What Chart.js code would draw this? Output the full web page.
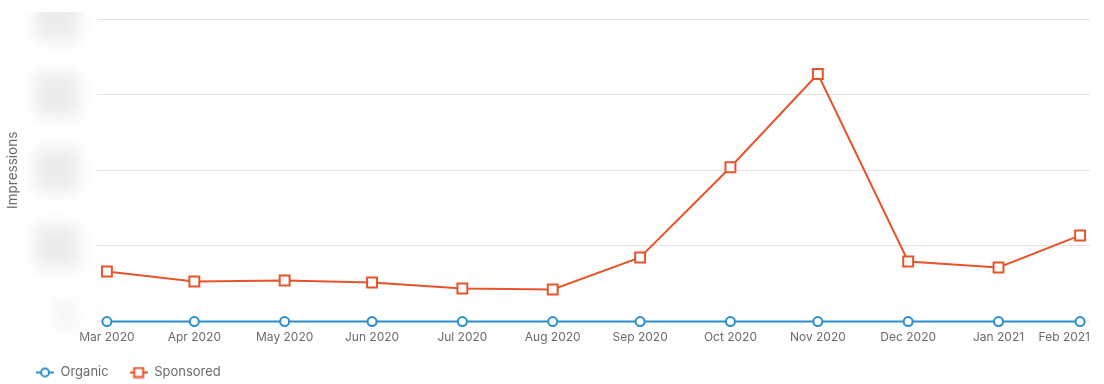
<!DOCTYPE html>
<html>
<head>
<meta charset="utf-8">
<title>Impressions</title>
<script src="https://cdn.jsdelivr.net/npm/chart.js@4/dist/chart.umd.min.js"></script>
<style>
  html, body { margin: 0; padding: 0; background: #ffffff; }
  #wrap { position: relative; width: 1104px; height: 384px; }
</style>
</head>
<body>
<div id="wrap"><canvas id="chart"></canvas></div>
<script>
// ─── Data ───────────────────────────────────────────────────────────────────
// one point per month, stamped at the month's last day
const MONTH_DATES  = ["2020-03-31", "2020-04-30", "2020-05-31", "2020-06-30", "2020-07-31", "2020-08-31",
                      "2020-09-30", "2020-10-31", "2020-11-30", "2020-12-31", "2021-01-31", "2021-02-28"];
const MONTH_LABELS = ["Mar 2020", "Apr 2020", "May 2020", "Jun 2020", "Jul 2020", "Aug 2020",
                      "Sep 2020", "Oct 2020", "Nov 2020", "Dec 2020", "Jan 2021", "Feb 2021"];
const ORGANIC   = [0, 0, 0, 0, 0, 0, 0, 0, 0, 0, 0, 0];
const SPONSORED = [662, 530, 543, 517, 437, 424, 848, 2040, 3272, 795, 715, 1139];
const Y_TICKS   = [0, 1000, 2000, 3000, 4000];

// ─── Colors ─────────────────────────────────────────────────────────────────
const BLUE   = "#2b8fcf";
const ORANGE = "#e8542a";
const TEXT   = "#6b6b6b";
const GRID   = "#e2e2e2";

// days since the first point, so spacing follows month length (like a time axis)
const DAY = 86400000;
const t0 = Date.parse(MONTH_DATES[0]);
const xDays = MONTH_DATES.map(d => (Date.parse(d) - t0) / DAY);

const toPoints = vals => vals.map((v, i) => ({ x: xDays[i], y: v }));

// ─── Legend markers (line + symbol) ─────────────────────────────────────────
function legendIcon(color, shape) {
    const c = document.createElement("canvas");
    c.width = 18; c.height = 12;
    const g = c.getContext("2d");
    g.strokeStyle = color;
    g.lineWidth = 2;
    g.beginPath(); g.moveTo(0, 6); g.lineTo(18, 6); g.stroke();
    g.fillStyle = "#ffffff";
    g.beginPath();
    if (shape === "circle") g.arc(9, 6, 4, 0, Math.PI * 2);
    else g.rect(4.5, 1.5, 9, 9);
    g.fill(); g.stroke();
    return c;
}
const ICONS = [legendIcon(BLUE, "circle"), legendIcon(ORANGE, "rect")];

// ─── Blurred y labels (values are obscured in the original) ─────────────────
const blurLabels = {
    id: "blurLabels",
    afterDraw(chart) {
        const y = chart.scales.y;
        const ctx = chart.ctx;
        ctx.save();
        ctx.beginPath();
        ctx.rect(0, 12, y.right, chart.height);
        ctx.clip();
        ctx.filter = "blur(8px)";
        y.ticks.forEach(t => {
            const py = y.getPixelForValue(t.value);
            const short = t.label.length < 2;
            const w = short ? 26 : 44;
            ctx.fillStyle = short ? "#f6f6f6" : "#ececec";
            ctx.fillRect(79 - w, py - 22, w, short ? 30 : 44);
        });
        ctx.restore();
    },
};

// legend placement + right-justify the last x label so it stays inside
const tweaks = {
    id: "tweaks",
    afterLayout(chart) {
        chart.legend.left = 15;
        chart.legend.top -= 9;
        chart.legend.bottom -= 9;
    },
    beforeDraw(chart) {
        const x = chart.scales.x;
        const items = x.getLabelItems();
        const last = items[items.length - 1];
        if (!last) return;
        const ctx = chart.ctx;
        ctx.save();
        ctx.font = Chart.helpers.toFont(x.options.ticks.font).string;
        const w = ctx.measureText(last.label).width;
        ctx.restore();
        const right = Math.min(last.options.translation[0] + w / 2, chart.width - 14);
        last.options.translation[0] = right;
        last.options.textAlign = "right";
    },
};

// ─── Chart ──────────────────────────────────────────────────────────────────
Chart.defaults.font.family = "Inter, 'Noto Sans', sans-serif";
Chart.defaults.color = TEXT;

new Chart(document.getElementById("chart"), {
    type: "line",
    data: {
        datasets: [
            {
                label: "Organic",
                data: toPoints(ORGANIC),
                borderColor: BLUE,
                backgroundColor: "#ffffff",
                borderWidth: 2,
                pointStyle: "circle",
                pointRadius: 4.5,
                pointBorderWidth: 2,
                pointBackgroundColor: "#ffffff",
                tension: 0,
                clip: false,
            },
            {
                label: "Sponsored",
                data: toPoints(SPONSORED),
                borderColor: ORANGE,
                backgroundColor: "#ffffff",
                borderWidth: 2,
                pointStyle: "rect",
                pointRadius: 7,
                pointBorderWidth: 2,
                pointBackgroundColor: "#ffffff",
                tension: 0,
                clip: false,
            },
        ],
    },
    options: {
        responsive: true,
        maintainAspectRatio: false,
        animation: false,
        layout: { padding: { top: 19, right: 0, bottom: -14, left: 0 } },
        plugins: {
            tooltip: { enabled: false },
            legend: {
                position: "bottom",
                align: "start",
                labels: {
                    usePointStyle: true,
                    pointStyleWidth: 18,
                    font: { size: 13 },
                    color: TEXT,
                    padding: 21,
                    generateLabels(chart) {
                        return chart.data.datasets.map((ds, i) => ({
                            text: ds.label,
                            pointStyle: ICONS[i],
                            fillStyle: "#fff",
                            strokeStyle: ds.borderColor,
                            lineWidth: 0,
                            fontColor: TEXT,
                            datasetIndex: i,
                            hidden: false,
                        }));
                    },
                },
            },
        },
        scales: {
            x: {
                type: "linear",
                min: xDays[0] - 3.4,
                max: xDays[xDays.length - 1] + 3.4,
                afterBuildTicks(scale) {
                    scale.ticks = xDays.map(v => ({ value: v }));
                },
                afterFit(scale) {
                    scale.paddingRight = 14;
                },
                ticks: {
                    autoSkip: false,
                    maxRotation: 0,
                    padding: 9,
                    font: { size: 12 },
                    color: TEXT,
                    callback(value) {
                        const i = xDays.indexOf(value);
                        return i >= 0 ? MONTH_LABELS[i] : "";
                    },
                },
                grid: { display: false, drawTicks: false },
                border: { display: false },
            },
            y: {
                min: Y_TICKS[0],
                max: Y_TICKS[Y_TICKS.length - 1],
                afterBuildTicks(scale) {
                    scale.ticks = Y_TICKS.map(v => ({ value: v }));
                },
                afterFit(scale) {
                    scale.width = 97;
                },
                ticks: {
                    color: "rgba(0,0,0,0)",
                    font: { size: 12 },
                    callback: v => v.toLocaleString("en-US"),
                },
                grid: { color: GRID, lineWidth: 1, drawTicks: false },
                border: { display: false },
                title: {
                    display: true,
                    text: "Impressions",
                    color: TEXT,
                    font: { size: 13.5 },
                    padding: { top: 5, bottom: 4 },
                },
            },
        },
    },
    plugins: [blurLabels, tweaks],
});
</script>
</body>
</html>
